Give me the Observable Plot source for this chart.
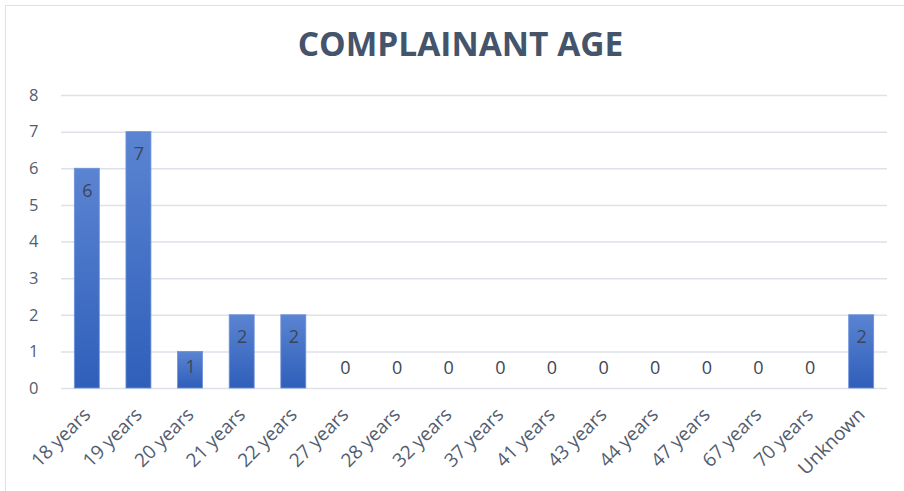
<!DOCTYPE html>
<html>
<head>
<meta charset="utf-8">
<script src="https://cdn.jsdelivr.net/npm/d3@7"></script>
<script src="https://cdn.jsdelivr.net/npm/@observablehq/plot@0.6"></script>
<style>
  html, body { margin: 0; padding: 0; background: #fff; }
  body { width: 904px; height: 491px; position: relative; overflow: hidden; font-family: "Open Sans", sans-serif; }
  #frame { position: absolute; left: 5px; top: 5px; width: 920px; height: 520px; border: 1.5px solid #dde1e8; box-sizing: border-box; }
  #title { position: absolute; left: 0; top: 22px; width: 921px; text-align: center; font-size: 33.5px; font-weight: 700; color: #44546a; line-height: 1.3; }
  #chart { position: absolute; left: 0; top: 80px; }
</style>
</head>
<body>
<div id="frame"></div>
<div id="title">COMPLAINANT AGE</div>
<div id="chart"></div>
<script>
const categories = ["18 years","19 years","20 years","21 years","22 years","27 years","28 years","32 years","37 years","41 years","43 years","44 years","47 years","67 years","70 years","Unknown"];
const counts = [6, 7, 1, 2, 2, 0, 0, 0, 0, 0, 0, 0, 0, 0, 0, 2];
const yTicks = [0, 1, 2, 3, 4, 5, 6, 7, 8];

const data = categories.map((c, i) => ({category: c, count: counts[i]}));

const defs = () => {
  const d = d3.create("svg:defs");
  const g = d.append("linearGradient").attr("id", "barGrad").attr("x1", 0).attr("y1", 0).attr("x2", 0).attr("y2", 1);
  g.append("stop").attr("offset", "0%").attr("stop-color", "#5b84d2");
  g.append("stop").attr("offset", "100%").attr("stop-color", "#2f5fba");
  return d.node();
};

const axisColor = "#525c6e";
const labelColor = "#3d4656";

const chart = Plot.plot({
  width: 904,
  height: 405,
  marginLeft: 61,
  marginRight: 17,
  marginTop: 15,
  marginBottom: 97,
  style: {fontFamily: "'Open Sans', sans-serif", fontSize: "15px", color: axisColor, background: "transparent"},
  x: {domain: categories, paddingInner: 0.516, paddingOuter: 0.258, round: false, label: null},
  y: {domain: [0, 8], label: null},
  marks: [
    defs,
    Plot.gridY(yTicks, {stroke: "#dde2ea", strokeOpacity: 1, strokeWidth: 1.5}),
    Plot.axisY(yTicks, {tickSize: 0, tickPadding: 23, fontSize: 16.5, fill: axisColor, tickFormat: d3.format("d"), label: null}),
    Plot.axisX({tickSize: 0, tickRotate: -45, tickPadding: 23, fontSize: 19, fill: axisColor, label: null}),
    Plot.barY(data, {x: "category", y: "count", fill: "url(#barGrad)", stroke: "#6d92da", strokeWidth: 0.8}),
    Plot.text(data.filter(d => d.count >= 2), {x: "category", y: "count", text: d => String(d.count), dy: 22, fill: labelColor, fontSize: 18}),
    Plot.text(data.filter(d => d.count === 1), {x: "category", y: "count", text: d => String(d.count), dy: 15, fill: labelColor, fontSize: 18}),
    Plot.text(data.filter(d => d.count === 0), {x: "category", y: "count", text: d => String(d.count), dy: -20, fill: labelColor, fontSize: 18})
  ]
});
document.getElementById("chart").appendChild(chart);
</script>
</body>
</html>
